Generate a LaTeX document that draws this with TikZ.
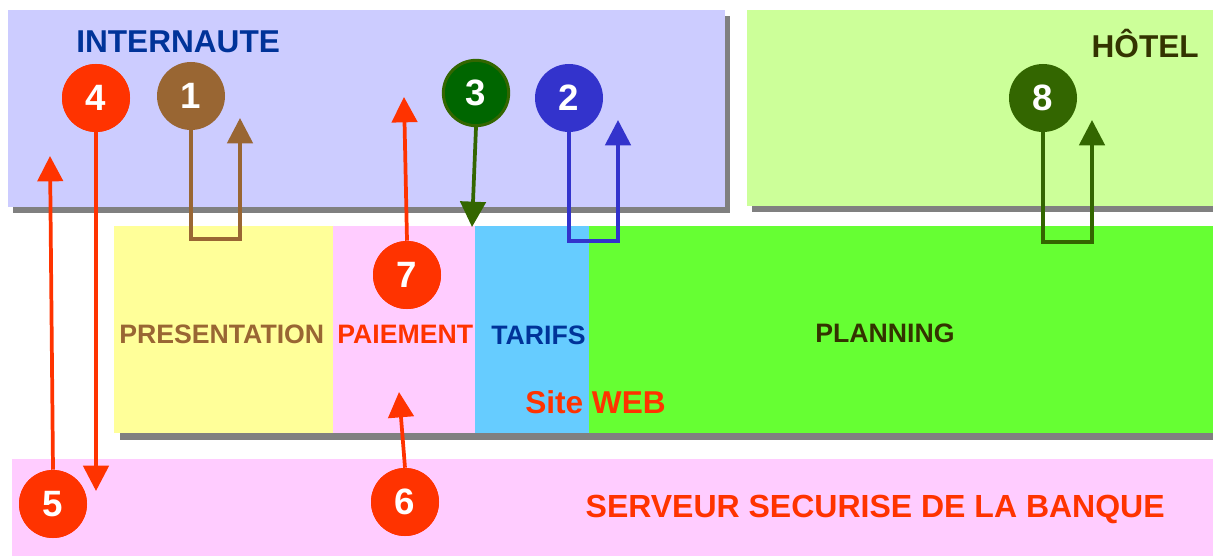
\documentclass[tikz,border=0pt]{standalone}
\usepackage{fontspec}
\setmainfont{Liberation Sans}
\usetikzlibrary{arrows.meta,fit}
\definecolor{cInt}{HTML}{CCCCFF}
\definecolor{cHot}{HTML}{CCFF99}
\definecolor{cPres}{HTML}{FFFF99}
\definecolor{cPink}{HTML}{FFCCFF}
\definecolor{cTar}{HTML}{66CCFF}
\definecolor{cPlan}{HTML}{66FF33}
\definecolor{cShadow}{HTML}{808080}
\definecolor{cRed}{HTML}{FF3300}
\definecolor{cBrown}{HTML}{996633}
\definecolor{cBlue}{HTML}{3333CC}
\definecolor{cNavy}{HTML}{003399}
\definecolor{cDGreen}{HTML}{006600}
\definecolor{cOlive}{HTML}{336600}
\definecolor{cDark}{HTML}{333300}
\tikzset{
  box/.style={fit={#1}, inner sep=0pt, draw=none},
  numcirc/.style={circle, minimum size=51pt, inner sep=0pt, text=white,
    font=\fontsize{27.5}{28}\selectfont\bfseries},
  biglabel/.style={inner sep=0pt, font=\fontsize{23.7}{24}\selectfont\bfseries},
  banklabel/.style={inner sep=0pt, font=\fontsize{24}{24}\selectfont\bfseries},
  midlabel/.style={inner sep=0pt, font=\fontsize{20}{20}\selectfont\bfseries},
  arr/.style={line width=2.8pt, -{Triangle[length=19pt,width=19pt]}}
}
\begin{document}
\begin{tikzpicture}[x=0.75pt,y=-0.75pt]
\useasboundingbox (0,0) rectangle (1213,556);
% shadows
\fill[cShadow] (13,16) rectangle (730,213);
\fill[cShadow] (752,16) rectangle (1213,212);
\fill[cShadow] (120,232) rectangle (1213,440);
% boxes
\node[box={(8,10) (725,207)}, fill=cInt] (internaute) {};
\node[box={(747,10) (1213,206)}, fill=cHot] (hotel) {};
\node[box={(114,226) (333,433)}, fill=cPres] (presentation) {};
\node[box={(333,226) (474.5,433)}, fill=cPink] (paiement) {};
\node[box={(474.5,226) (589,433)}, fill=cTar] (tarifs) {};
\node[box={(589,226) (1213,433)}, fill=cPlan] (planning) {};
\node[box={(12,459) (1213,556)}, fill=cPink] (banque) {};
% labels
\node[biglabel, text=cNavy, anchor=base west] (lint) at (76,53) {INTERNAUTE};
\node[biglabel, text=cDark, anchor=base east] (lhot) at (1199,58) {HÔTEL};
\node[midlabel, text=cBrown, anchor=base west] (lpres) at (119,343) {PRESENTATION};
\node[midlabel, text=cRed, anchor=base west] (lpai) at (337,343) {PAIEMENT};
\node[midlabel, text=cNavy, anchor=base west] (ltar) at (491,344) {TARIFS};
\node[midlabel, text=cDark, anchor=base west] (lplan) at (815,342) {PLANNING};
\node[biglabel, text=cRed, anchor=base west] (lweb) at (525,413) {Site WEB};
\node[banklabel, text=cRed, anchor=base east] (lbank) at (1165,517) {SERVEUR SECURISE DE LA BANQUE};
% arrow end points
\coordinate (t4) at (96,491);
\coordinate (t5) at (50,156);
\coordinate (t1) at (240,118);
\coordinate (t3) at (472,227);
\coordinate (t2) at (618,120);
\coordinate (t8) at (1092,120);
\coordinate (t7) at (404,97);
\coordinate (t6) at (399,392);
% circles
\node[numcirc, fill=cRed] (c4) at (96,98) {4};
\node[numcirc, fill=cBrown] (c1) at (191,96) {1};
\node[numcirc, fill=cDGreen, draw=cOlive, line width=2.25pt, minimum size=49pt] (c3) at (476,93) {3};
\node[numcirc, fill=cBlue] (c2) at (569,98) {2};
\node[numcirc, fill=cOlive] (c8) at (1043,98) {8};
\node[numcirc, fill=cRed] (c7) at (407,275) {7};
\node[numcirc, fill=cRed] (c6) at (405,502) {6};
\node[numcirc, fill=cRed] (c5) at (53,504) {5};
% connectors
\draw[arr, cRed] (c4.south) -- (t4);
\draw[arr, cRed] (c5.north) -- (t5);
\draw[arr, cBrown] (c1.south) -- ++(0,109) -| (t1);
\draw[arr, cOlive] (c3.south) -- (t3);
\draw[arr, cBlue] (c2.south) -- ++(0,109) -| (t2);
\draw[arr, cOlive] (c8.south) -- ++(0,110) -| (t8);
\draw[arr, cRed] (c7.north) -- (t7);
\draw[arr, cRed] (c6.north) -- (t6);
% circles kept on top of their connectors
\node[numcirc, fill=cRed] at (c4) {4};
\node[numcirc, fill=cRed] at (c5) {5};
\node[numcirc, fill=cRed] at (c6) {6};
\node[numcirc, fill=cRed] at (c7) {7};
\end{tikzpicture}
\end{document}
